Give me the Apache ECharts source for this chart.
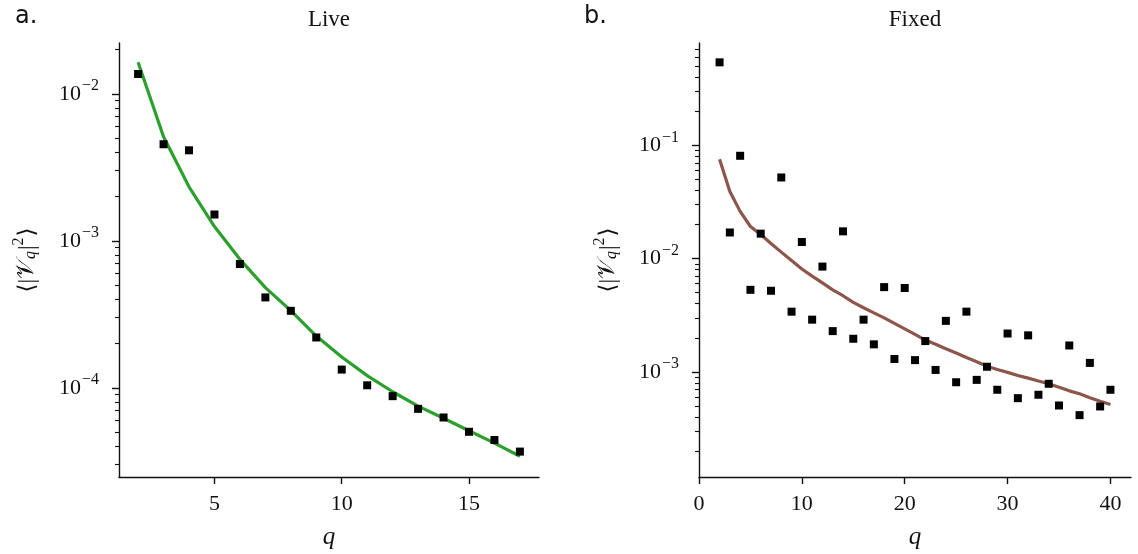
<!DOCTYPE html>
<html>
<head>
<meta charset="utf-8">
<script src="https://cdn.jsdelivr.net/npm/echarts@6/dist/echarts.min.js"></script>
<style>
  html, body { margin: 0; padding: 0; background: #ffffff; }
  #chart { width: 1138px; height: 554px; }
</style>
</head>
<body>
<div id="chart"></div>
<script>
// ---- Panel a: live ----
const qLive = [2, 3, 4, 5, 6, 7, 8, 9, 10, 11, 12, 13, 14, 15, 16, 17];
const liveMeasured = [0.01365, 0.00454, 0.00413, 0.00151, 0.000695, 0.000412, 0.000334, 0.000220,
  0.000133, 0.000104, 0.0000877, 0.0000719, 0.0000628, 0.0000502, 0.0000441, 0.0000368];
const liveFit = [0.0164, 0.0051, 0.00233, 0.00125, 0.000748, 0.00048, 0.000335, 0.000225,
  0.000162, 0.000121, 0.000094, 0.000075, 0.000062, 0.000051, 0.000042, 0.0000342];

// ---- Panel b: fixed ----
const qFixed = [2, 3, 4, 5, 6, 7, 8, 9, 10, 11, 12, 13, 14, 15, 16, 17, 18, 19, 20, 21,
  22, 23, 24, 25, 26, 27, 28, 29, 30, 31, 32, 33, 34, 35, 36, 37, 38, 39, 40];
const fixedMeasured = [0.54, 0.0170, 0.0808, 0.0053, 0.0166, 0.0052, 0.052, 0.0034, 0.0140, 0.00289,
  0.0085, 0.00229, 0.0174, 0.00196, 0.00289, 0.00175, 0.0056, 0.0013, 0.0055, 0.00127,
  0.00187, 0.00104, 0.00282, 0.00081, 0.0034, 0.00085, 0.00111, 0.000695, 0.00218, 0.000586,
  0.0021, 0.000628, 0.000785, 0.000505, 0.00171, 0.000415, 0.0012, 0.000495, 0.000695];
const fixedFit = [0.0753, 0.0391, 0.0261, 0.0192, 0.0163, 0.0136, 0.0114, 0.0096, 0.0081, 0.0070,
  0.0061, 0.0053, 0.0047, 0.0041, 0.00368, 0.00332, 0.0030, 0.00268, 0.0024, 0.00214,
  0.00191, 0.00175, 0.0016, 0.00147, 0.00134, 0.00123, 0.00112, 0.00105, 0.00099, 0.00093,
  0.00088, 0.00083, 0.000785, 0.00073, 0.00068, 0.00064, 0.00059, 0.00055, 0.000515];

// ---- Axis ticks ----
const liveXTicks = [5, 10, 15];
const fixedXTicks = [0, 10, 20, 30, 40];
const liveYMajor = [1e-4, 1e-3, 1e-2];
const liveYMinor = [3e-5, 4e-5, 5e-5, 6e-5, 7e-5, 8e-5, 9e-5,
  2e-4, 3e-4, 4e-4, 5e-4, 6e-4, 7e-4, 8e-4, 9e-4,
  2e-3, 3e-3, 4e-3, 5e-3, 6e-3, 7e-3, 8e-3, 9e-3, 2e-2];
const fixedYMajor = [1e-3, 1e-2, 1e-1];
const fixedYMinor = [2e-4, 3e-4, 4e-4, 5e-4, 6e-4, 7e-4, 8e-4, 9e-4,
  2e-3, 3e-3, 4e-3, 5e-3, 6e-3, 7e-3, 8e-3, 9e-3,
  2e-2, 3e-2, 4e-2, 5e-2, 6e-2, 7e-2, 8e-2, 9e-2,
  2e-1, 3e-1, 4e-1, 5e-1, 6e-1, 7e-1];

const panelTitles = ['Live', 'Fixed'];
const panelTags = ['a.', 'b.'];

const SERIF = '"Liberation Serif", "DejaVu Serif", serif';
const SANS = '"DejaVu Sans", sans-serif';
const INK = '#111111';

const pairs = (xs, ys) => xs.map((x, i) => [x, ys[i]]);

// "10^-n" labels drawn with a raised exponent
function powerLabel(v) {
  const e = Math.round(Math.log10(v));
  return '{b|10}{s|\u2212' + Math.abs(e) + '}';
}
const powerRich = {
  b: { fontFamily: SERIF, fontSize: 22, color: INK, lineHeight: 22, verticalAlign: 'bottom' },
  s: { fontFamily: SERIF, fontSize: 16, color: INK, lineHeight: 16, padding: [0, 0, 11, 1], verticalAlign: 'bottom' }
};

const yNameText = '{t|\u27E8|}{v|\uD835\uDCB1}{sub|q}{t||}{sup|2}{t|\u27E9}';
const yNameRich = {
  t: { fontFamily: SERIF, fontSize: 23, color: INK, lineHeight: 26, verticalAlign: 'bottom' },
  v: { fontFamily: SERIF, fontSize: 24, color: INK, lineHeight: 26, verticalAlign: 'bottom' },
  sub: { fontFamily: SERIF, fontStyle: 'italic', fontSize: 16, color: INK, lineHeight: 16, verticalAlign: 'bottom', padding: [0, 1, 0, 0] },
  sup: { fontFamily: SERIF, fontSize: 16, color: INK, lineHeight: 16, verticalAlign: 'bottom', padding: [0, 1, 12, 0] }
};

const axisLineStyle = { color: INK, width: 1.4 };

function xAxisFor(grid, min, max, ticks) {
  return {
    type: 'value', gridIndex: grid, min: min, max: max,
    axisLine: { show: true, onZero: false, lineStyle: axisLineStyle },
    axisTick: { show: true, length: 7, lineStyle: axisLineStyle, customValues: ticks },
    axisLabel: { customValues: ticks, fontFamily: SERIF, fontSize: 22, color: INK, margin: 16 },
    splitLine: { show: false },
    name: 'q', nameLocation: 'middle', nameGap: 48,
    nameTextStyle: { fontFamily: SERIF, fontStyle: 'italic', fontSize: 25, color: INK }
  };
}

function yMajorAxis(grid, min, max, ticks, gap) {
  return {
    type: 'log', logBase: 10, gridIndex: grid, position: 'left', min: min, max: max,
    axisLine: { show: true, lineStyle: axisLineStyle },
    axisTick: { show: true, length: 7, lineStyle: axisLineStyle, customValues: ticks },
    axisLabel: { customValues: ticks, formatter: powerLabel, rich: powerRich, margin: 20 },
    splitLine: { show: false },
    minorTick: { show: false },
    name: yNameText, nameLocation: 'middle', nameGap: gap, nameRotate: 90,
    nameTextStyle: { rich: yNameRich }
  };
}

function yMinorAxis(grid, min, max, ticks) {
  return {
    type: 'log', logBase: 10, gridIndex: grid, position: 'left', min: min, max: max,
    axisLine: { show: false },
    axisTick: { show: true, length: 4, lineStyle: { color: INK, width: 1.1 }, customValues: ticks },
    axisLabel: { show: false },
    splitLine: { show: false },
    minorTick: { show: false }
  };
}

const chart = echarts.init(document.getElementById('chart'), null, { renderer: 'canvas' });

chart.setOption({
  animation: false,
  backgroundColor: '#ffffff',
  grid: [
    { left: 119, top: 43, width: 420, height: 434, outerBoundsMode: 'none' },
    { left: 699, top: 43, width: 432, height: 434, outerBoundsMode: 'none' }
  ],
  xAxis: [
    xAxisFor(0, 1.25, 17.75, liveXTicks),
    xAxisFor(1, 0, 42, fixedXTicks)
  ],
  yAxis: [
    yMajorAxis(0, Math.pow(10, -4.607), Math.pow(10, -1.654), liveYMajor, 80),
    yMinorAxis(0, Math.pow(10, -4.607), Math.pow(10, -1.654), liveYMinor),
    yMajorAxis(1, Math.pow(10, -3.928), Math.pow(10, -0.097), fixedYMajor, 79),
    yMinorAxis(1, Math.pow(10, -3.928), Math.pow(10, -0.097), fixedYMinor)
  ],
  graphic: [
    { type: 'text', left: 15, top: 5, style: { text: panelTags[0], font: '24px ' + SANS, fill: INK } },
    { type: 'text', left: 584, top: 5, style: { text: panelTags[1], font: '24px ' + SANS, fill: INK } },
    { type: 'text', x: 329, y: 20, style: { text: panelTitles[0], font: '23px ' + SERIF, fill: INK, align: 'center', verticalAlign: 'middle' } },
    { type: 'text', x: 915, y: 20, style: { text: panelTitles[1], font: '23px ' + SERIF, fill: INK, align: 'center', verticalAlign: 'middle' } }
  ],
  series: [
    {
      type: 'line', xAxisIndex: 0, yAxisIndex: 0, data: pairs(qLive, liveFit),
      showSymbol: false, symbol: 'none', lineStyle: { color: '#2ca02c', width: 3.2 }, z: 2
    },
    {
      type: 'scatter', xAxisIndex: 0, yAxisIndex: 0, data: pairs(qLive, liveMeasured),
      symbol: 'rect', symbolSize: 8, itemStyle: { color: '#000000', opacity: 1 }, z: 3
    },
    {
      type: 'line', xAxisIndex: 1, yAxisIndex: 2, data: pairs(qFixed, fixedFit),
      showSymbol: false, symbol: 'none', lineStyle: { color: '#8c564b', width: 3.2 }, z: 2
    },
    {
      type: 'scatter', xAxisIndex: 1, yAxisIndex: 2, data: pairs(qFixed, fixedMeasured),
      symbol: 'rect', symbolSize: 8, itemStyle: { color: '#000000', opacity: 1 }, z: 3
    }
  ]
});
</script>
</body>
</html>
